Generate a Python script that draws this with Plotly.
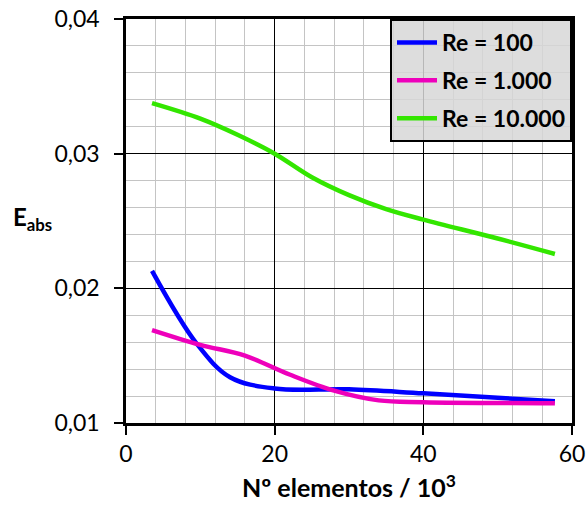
import plotly.graph_objects as go

# Data
x_re100 = [3.5, 9.5, 14, 20, 30, 40, 57.7]
y_re100 = [0.0213, 0.0159, 0.0134, 0.01256, 0.0125, 0.0122, 0.01162]

x_re1000 = [3.5, 10, 16, 22, 28, 34, 40, 57.7]
y_re1000 = [0.0169, 0.0158, 0.0150, 0.0136, 0.0124, 0.01168, 0.01155, 0.01147]

x_re10000 = [3.5, 10, 15, 20, 25, 30, 35, 40, 50, 57.7]
y_re10000 = [0.03375, 0.0326, 0.0314, 0.0300, 0.02825, 0.02692, 0.02588, 0.0251, 0.0237, 0.02255]

names = ["Re = 100", "Re = 1.000", "Re = 10.000"]
colors = ["#0000FF", "#EE00BB", "#33E600"]

y_tickvals = [0.01, 0.02, 0.03, 0.04]
y_ticktext = ["0,01", "0,02", "0,03", "0,04"]
x_tickvals = [0, 20, 40, 60]

FONT = "Lato"

fig = go.Figure()
for i, (xs, ys) in enumerate([(x_re100, y_re100), (x_re1000, y_re1000), (x_re10000, y_re10000)]):
    fig.add_trace(go.Scatter(
        x=xs, y=ys, mode="lines", name=names[i],
        line=dict(color=colors[i], width=4.5, shape="spline", smoothing=1.0),
        legendgroup=f"g{i}",
    ))

fig.update_layout(
    width=588, height=513,
    margin=dict(l=126, r=16, t=19, b=90),
    plot_bgcolor="white", paper_bgcolor="white",
    font=dict(family=FONT, size=23, color="black"),
    showlegend=True,
    legend=dict(
        x=1, y=1, xanchor="right", yanchor="top",
        bgcolor="rgba(215,215,215,0.85)", bordercolor="black", borderwidth=2,
        font=dict(family=FONT, size=23, color="black", weight="bold"),
        traceorder="grouped", tracegroupgap=5, itemwidth=40,
    ),
)

fig.update_xaxes(
    range=[0, 60], tickvals=x_tickvals, ticks="outside", ticklen=9, tickwidth=2,
    tickcolor="black", showline=True, linewidth=2.5, linecolor="black", mirror=True,
    showgrid=True, gridcolor="black", gridwidth=1, zeroline=False, automargin=False,
    minor=dict(dtick=4, showgrid=True, gridcolor="#c4c4c4", gridwidth=1, ticks=""),
    title=dict(text="<b>Nº elementos / 10<sup>3</sup></b>", font=dict(size=25), standoff=14),
)
fig.update_yaxes(
    range=[0.01, 0.04], tickvals=y_tickvals, ticktext=y_ticktext, ticks="outside",
    ticklen=9, tickwidth=2, tickcolor="black", showline=True, linewidth=2.5,
    linecolor="black", mirror=True, showgrid=True, gridcolor="black", gridwidth=1,
    zeroline=False, automargin=False, ticklabelstandoff=10,
    minor=dict(dtick=0.002, showgrid=True, gridcolor="#c4c4c4", gridwidth=1, ticks=""),
)

fig.add_annotation(
    text="<b>E<sub>abs</sub></b>", xref="paper", yref="paper",
    x=-0.21, y=0.505, xanchor="center", yanchor="middle", showarrow=False,
    font=dict(family=FONT, size=24, color="black"),
)

fig.write_html("out.html")
